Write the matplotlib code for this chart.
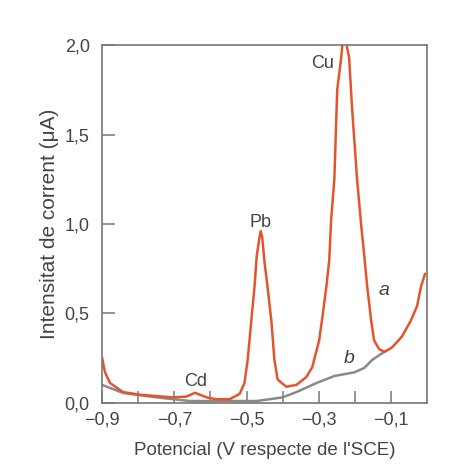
import matplotlib
matplotlib.use("Agg")
import matplotlib.pyplot as plt
from matplotlib.ticker import FixedLocator, FuncFormatter

plt.rcParams['font.family'] = ['Liberation Sans', 'DejaVu Sans']

# curve a: sample with Cd, Pb, Cu (potential in V, current in uA)
pot_a = [-0.900, -0.892, -0.878, -0.842, -0.795, -0.704, -0.666, -0.643, -0.610,
         -0.583, -0.547, -0.519, -0.506, -0.497, -0.486, -0.478, -0.472, -0.464,
         -0.461, -0.457, -0.450, -0.442, -0.431, -0.423, -0.414, -0.390, -0.362,
         -0.334, -0.318, -0.299, -0.290, -0.279, -0.271, -0.266, -0.257, -0.249,
         -0.238, -0.234, -0.225, -0.216, -0.208, -0.194, -0.183, -0.174, -0.166,
         -0.155, -0.147, -0.133, -0.118, -0.097, -0.070, -0.045, -0.028, -0.017,
         -0.006]
cur_a = [0.25, 0.17, 0.11, 0.06, 0.045, 0.03, 0.035, 0.056, 0.03,
         0.02, 0.02, 0.05, 0.11, 0.24, 0.48, 0.65, 0.82, 0.93,
         0.96, 0.93, 0.78, 0.65, 0.45, 0.24, 0.13, 0.09, 0.10,
         0.145, 0.20, 0.35, 0.48, 0.65, 0.80, 1.02, 1.25, 1.75,
         1.93, 2.02, 2.02, 1.93, 1.65, 1.25, 1.00, 0.82, 0.65,
         0.46, 0.35, 0.30, 0.285, 0.31, 0.37, 0.46, 0.54, 0.65,
         0.72]

# curve b: blank
pot_b = [-0.900, -0.842, -0.748, -0.657, -0.566, -0.472, -0.401, -0.362, -0.307,
         -0.257, -0.202, -0.174, -0.152, -0.130, -0.114]
cur_b = [0.10, 0.055, 0.03, 0.01, 0.01, 0.01, 0.03, 0.06, 0.11,
         0.15, 0.17, 0.195, 0.24, 0.27, 0.29]

x_major = [-0.9, -0.7, -0.5, -0.3, -0.1]
x_minor = [-0.8, -0.6, -0.4, -0.2]
y_ticks = [0.0, 0.5, 1.0, 1.5, 2.0]

ink = '#444444'
fig = plt.figure(figsize=(4.52, 4.75), dpi=100)
ax = fig.add_axes([0.226, 0.152, 0.719, 0.753])

ax.plot(pot_b, cur_b, color='#8a8a8a', lw=1.8)
ax.plot(pot_a, cur_a, color='#e2552e', lw=1.8)

ax.set_xlim(-0.9, 0.0)
ax.set_ylim(0.0, 2.0)
ax.xaxis.set_major_locator(FixedLocator(x_major))
ax.xaxis.set_minor_locator(FixedLocator(x_minor))
ax.yaxis.set_major_locator(FixedLocator(y_ticks))
fmt = FuncFormatter(lambda v, p: ('%.1f' % v).replace('.', ',').replace('-', '\u2212'))
ax.xaxis.set_major_formatter(fmt)
ax.yaxis.set_major_formatter(fmt)
ax.tick_params(which='both', direction='in', length=9, width=1.1, color='#777777',
               labelsize=13, labelcolor=ink)
ax.tick_params(axis='x', pad=6)
ax.tick_params(axis='y', pad=9)
for s in ax.spines.values():
    s.set_color('#777777')
    s.set_linewidth(1.2)

ax.set_xlabel("Potencial (V respecte de l'SCE)", fontsize=13.5, color=ink, labelpad=10)
ax.set_ylabel("Intensitat de corrent (\u03bcA)", fontsize=15, color=ink, labelpad=4)

ax.text(-0.29, 1.90, 'Cu', fontsize=13, color=ink, ha='center', va='center')
ax.text(-0.462, 1.01, 'Pb', fontsize=13, color=ink, ha='center', va='center')
ax.text(-0.64, 0.12, 'Cd', fontsize=13, color=ink, ha='center', va='center')
ax.text(-0.12, 0.63, 'a', fontsize=14, style='italic', color=ink, ha='center', va='center')
ax.text(-0.215, 0.25, 'b', fontsize=14, style='italic', color=ink, ha='center', va='center')

fig.savefig('out.png', dpi=100)
